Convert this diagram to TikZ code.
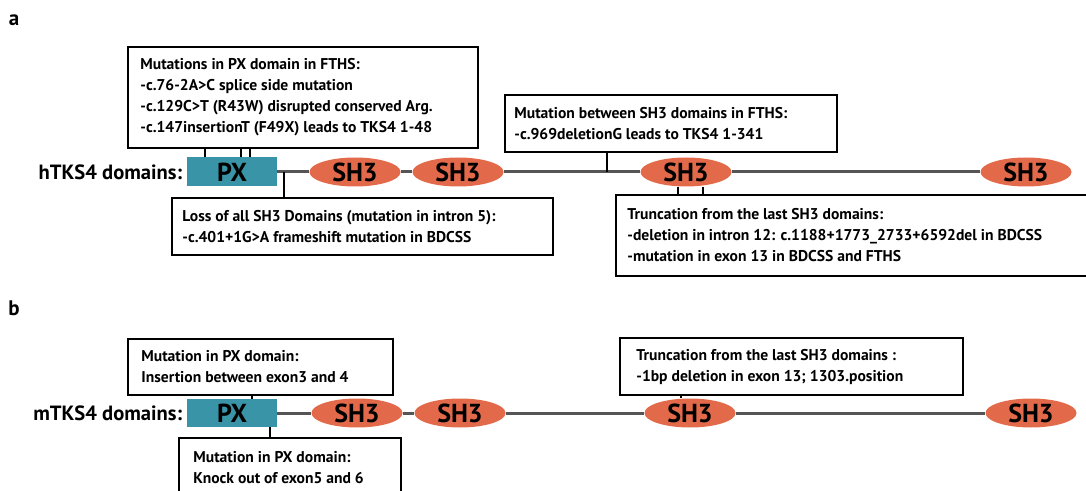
\documentclass[tikz,border=0pt]{standalone}
\usepackage{fontspec}
\setmainfont{PT Sans}
\usetikzlibrary{positioning,shapes.geometric}
\definecolor{pxteal}{RGB}{58,148,168}
\definecolor{shorange}{RGB}{226,106,74}
\definecolor{bbgray}{RGB}{85,85,85}

\begin{document}
\begin{tikzpicture}[x=.5pt,y=-.5pt,
  mutbox/.style 2 args={draw,line width=1pt,anchor=north west,inner sep=0pt,
    minimum width=#1,minimum height=#2},
  muttext/.style={inner sep=0pt,align=left,font=\bfseries\fontsize{7.8}{10.5}\selectfont},
  pxbox/.style={fill=pxteal,minimum width=45pt,minimum height=14.5pt,inner sep=0pt,
    font=\bfseries\fontsize{13}{13}\selectfont},
  shbox/.style={ellipse,fill=shorange,minimum width=45.5pt,minimum height=14.5pt,inner sep=0pt,
    font=\bfseries\fontsize{13}{13}\selectfont},
  backbone/.style={draw=bbgray,line width=1.5pt},
  link/.style={line width=1pt},
  domlabel/.style={inner sep=0pt,font=\bfseries\fontsize{10.3}{10.3}\selectfont},
  panel/.style={inner sep=0pt,font=\bfseries\fontsize{10.5}{10.5}\selectfont}]
\useasboundingbox (0,0) rectangle (1086,491);

% panel a: human TKS4
\node[panel] (pa) at (14,20) {a};
\node[pxbox] (hpx) at (232,172) {PX};
\node[domlabel,left=2pt of hpx] (hlab) {hTKS4 domains:};
\node[shbox] (hsh1) at (355,172) {SH3};
\node[shbox] (hsh2) at (458,172) {SH3};
\node[shbox] (hsh3) at (686,172) {SH3};
\node[shbox] (hsh4) at (1026,172) {SH3};
\draw[backbone] (hpx) -- (hsh1) (hsh1) -- (hsh2) (hsh2) -- (hsh3) (hsh3) -- (hsh4);

\node[mutbox={175pt}{50.5pt}] (hmut1) at (127,46) {};
\node[muttext,right=6.5pt of hmut1.west] (hmut1t)
  {Mutations in PX domain in FTHS:\\-c.76-2A>C splice side mutation\\
   -c.129C>T (R43W) disrupted conserved Arg.\\-c.147insertionT (F49X) leads to TKS4 1-48};
\node[mutbox={166pt}{28.5pt}] (hmut2) at (504,94) {};
\node[muttext,right=5pt of hmut2.west] (hmut2t)
  {Mutation between SH3 domains in FTHS:\\-c.969deletionG leads to TKS4 1-341};
\node[mutbox={190.5pt}{28.5pt}] (hmut3) at (171,197) {};
\node[muttext,right=5.5pt of hmut3.west] (hmut3t)
  {Loss of all SH3 Domains (mutation in intron 5):\\-c.401+1G>A frameshift mutation in BDCSS};
\node[mutbox={252.5pt}{40.5pt}] (hmut4) at (615,194) {};
\node[muttext,right=6pt of hmut4.west] (hmut4t)
  {Truncation from the last SH3 domains:\\
   -deletion in intron 12: c.1188+1773\_2733+6592del in BDCSS\\
   -mutation in exon 13 in BDCSS and FTHS};

\coordinate (hc1) at (205,0);
\coordinate (hc2) at (241,0);
\coordinate (hc3) at (250,0);
\coordinate (hc4) at (284,0);
\coordinate (hc5) at (607,0);
\coordinate (hc6) at (678,0);
\coordinate (hc7) at (703,0);
\foreach \c in {hc1,hc2,hc3}
  \draw[link] (hmut1.south -| \c) -- (hpx.north -| \c);
\draw[link] (hpx.east -| hc4) -- (hmut3.north -| hc4);
\draw[link] (hmut2.south -| hc5) -- (hpx.east -| hc5);
\foreach \c in {hc6,hc7}
  \draw[link] (hsh3.south -| \c) -- (hmut4.north -| \c);

% panel b: mouse TKS4
\node[panel] (pb) at (14,308) {b};
\node[pxbox,minimum height=14pt] (mpx) at (232,413) {PX};
\node[domlabel,left=2pt of mpx] (mlab) {mTKS4 domains:};
\node[shbox] (msh1) at (357,413) {SH3};
\node[shbox] (msh2) at (460,413) {SH3};
\node[shbox] (msh3) at (690,413) {SH3};
\node[shbox] (msh4) at (1031,413) {SH3};
\draw[backbone] (mpx) -- (msh1) (msh1) -- (msh2) (msh2) -- (msh3) (msh3) -- (msh4);

\node[mutbox={132.5pt}{28pt}] (mmut1) at (127,338) {};
\node[muttext,right=7pt of mmut1.west] (mmut1t)
  {Mutation in PX domain:\\Insertion between exon3 and 4};
\node[mutbox={111pt}{30pt}] (mmut2) at (178,437) {};
\node[muttext,right=7.5pt of mmut2.west] (mmut2t)
  {Mutation in PX domain:\\Knock out of exon5 and 6};
\node[mutbox={171.5pt}{28.5pt}] (mmut3) at (619,337) {};
\node[muttext,right=8.5pt of mmut3.west] (mmut3t)
  {Truncation from the last SH3 domains :\\-1bp deletion in exon 13; 1303.position};

\coordinate (mc1) at (252,0);
\coordinate (mc2) at (270,0);
\coordinate (mc3) at (681,0);
\draw[link] (mmut1.south -| mc1) -- (mpx.north -| mc1);
\draw[link] (mpx.south -| mc2) -- (mmut2.north -| mc2);
\draw[link] (mmut3.south -| mc3) -- (msh3.north -| mc3);
\end{tikzpicture}
\end{document}
